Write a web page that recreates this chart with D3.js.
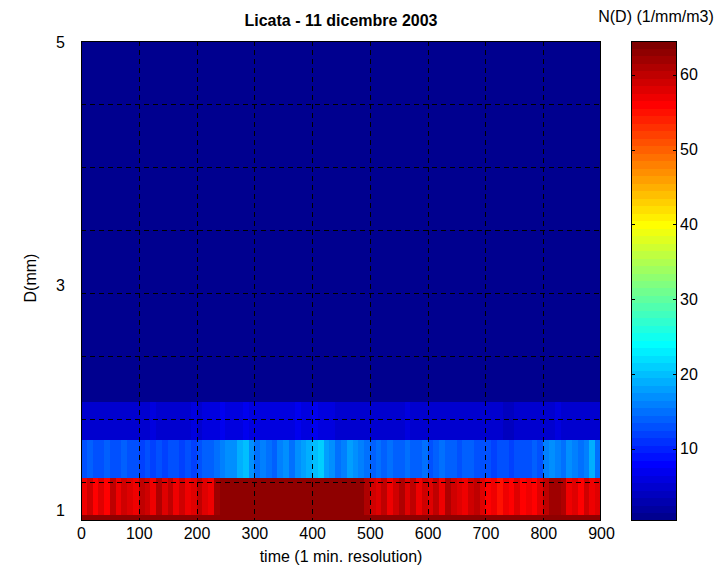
<!DOCTYPE html>
<html>
<head>
<meta charset="utf-8">
<script src="https://cdn.jsdelivr.net/npm/d3@7"></script>
<style>
  body { margin: 0; background: #fff; }
  svg text { font-family: "Liberation Sans", Arial, Helvetica, sans-serif; fill: #000; }
</style>
</head>
<body>
<div id="chart"></div>
<script>
// time axis (minutes) and diameter bins (mm)
var timeRange = [0, 900];
var xTicks = [0, 100, 200, 300, 400, 500, 600, 700, 800, 900];
var yGrid = [1.5, 2, 2.5, 3, 3.5, 4, 4.5];
var yLabelText = ["5", "3", "1"];
var yLabelPos = [4.99, 3.06, 1.28];
var cbarTicks = [10, 20, 30, 40, 50, 60];

// bin centres, 0.3 mm wide
var dCenters = [1.09, 1.39, 1.69, 1.99, 2.29, 2.59, 2.89, 3.19, 3.49, 3.79, 4.09, 4.39, 4.69, 4.99];

// N(D) colour index per 10 minutes (one value = whole row)
var row1 = [63];
var row2 = [57, 59, 56, 58, 56, 60, 57, 59, 58, 57, 60, 59, 57, 61, 58, 60, 57, 59, 57, 58, 60, 58, 57, 62,
            63, 63, 63, 63, 63, 63, 63, 63, 63, 63, 63, 63, 63, 63, 63, 63, 63, 63, 63, 63, 63, 63, 63, 63, 63,
            61, 59, 58, 60, 57, 59, 61, 58, 60, 57, 59, 58, 60, 57, 61, 59, 58, 57, 59, 60, 58,
            56, 57, 55, 57, 56, 58, 56, 57, 56, 58,
            60, 62, 62, 61, 57, 58, 56, 59, 57, 58];
var row3 = [13, 14, 13, 13, 14, 13, 13, 14, 13, 13,
            12, 13, 12, 13, 12, 13, 13, 12, 13, 12,
            13, 14, 14, 15, 16, 17, 17, 19, 20, 17,
            15, 16, 15, 14, 16, 17, 15, 17, 18, 19,
            20, 21, 18, 17, 15, 16, 18, 17, 16, 15,
            14, 15, 14, 15, 14, 14, 15, 14, 14, 15,
            13, 14, 15, 14, 14, 13, 14, 14, 13, 13,
            13, 12, 13, 13, 12, 13, 13, 13, 14, 13,
            16, 17, 16, 15, 17, 16, 15, 16, 19, 15];
var row4 = [5, 5, 5, 5, 5, 5, 5, 5, 5, 5,
            5, 5, 6, 5, 5, 5, 5, 5, 5, 6,
            5, 6, 6, 6, 7, 6, 6, 6, 7, 6,
            6, 6, 6, 6, 6, 6, 6, 7, 6, 6,
            7, 6, 6, 6, 5, 5, 5, 5, 5, 5,
            5, 5, 5, 5, 5, 5, 6, 5, 5, 5,
            5, 5, 5, 5, 5, 5, 5, 5, 5, 5,
            5, 5, 5, 4, 4, 5, 5, 5, 5, 5,
            5, 5, 6, 5, 5, 5, 5, 5, 5, 5];
var rowTop = [1];
var rows = [row1, row2, row3, row4, rowTop, rowTop, rowTop, rowTop, rowTop, rowTop, rowTop, rowTop, rowTop, rowTop];

// matlab jet(64)
function jet(m) {
    var n = Math.ceil(m / 4), u = [], i;
    for (i = 1; i <= n; i++) u.push(i / n);
    for (i = 1; i < n; i++) u.push(1);
    for (i = n; i >= 1; i--) u.push(i / n);
    var g0 = Math.ceil(n / 2) - (m % 4 == 1 ? 1 : 0);
    var J = d3.range(m).map(function () { return [0, 0, 0]; });
    u.forEach(function (v, k) {
        var g = g0 + k + 1, r = g + n, b = g - n;
        if (r <= m) J[r - 1][0] = v;
        if (g <= m) J[g - 1][1] = v;
        if (b >= 1) J[b - 1][2] = v;
    });
    return J.map(function (c) { return d3.rgb(c[0] * 255, c[1] * 255, c[2] * 255).formatHex(); });
}
var jetColors = jet(64);

var W = 724, H = 574;
var plot = { left: 81, right: 601, top: 41, bottom: 520 };
var cbar = { left: 631, right: 677 };

var svg = d3.select("#chart").append("svg").attr("width", W).attr("height", H);
svg.append("rect").attr("width", W).attr("height", H).attr("fill", "#fff");

var x = d3.scaleLinear().domain(timeRange).range([plot.left, plot.right]);
var y = d3.scaleLinear().domain([1.2, 5]).range([plot.bottom, plot.top]);
var color = d3.scaleQuantize().domain([0.5, 64.5]).range(jetColors);

svg.append("clipPath").attr("id", "clip")
    .append("rect").attr("x", plot.left).attr("y", plot.top)
    .attr("width", plot.right - plot.left).attr("height", plot.bottom - plot.top);

var cells = svg.append("g").attr("clip-path", "url(#clip)").attr("shape-rendering", "crispEdges");
rows.forEach(function (vals, r) {
    var step = (timeRange[1] - timeRange[0]) / vals.length;
    cells.selectAll(null).data(vals).enter().append("rect")
        .attr("x", function (d, i) { return x(i * step); })
        .attr("width", function (d, i) { return x((i + 1) * step) - x(i * step) + 0.5; })
        .attr("y", y(dCenters[r] + 0.15))
        .attr("height", y(dCenters[r] - 0.15) - y(dCenters[r] + 0.15) + 0.5)
        .attr("fill", function (d) { return color(d); });
});

// grid
var grid = svg.append("g").attr("stroke", "#000").attr("stroke-dasharray", "5,4")
    .attr("stroke-width", 1).attr("shape-rendering", "crispEdges");
grid.selectAll(null).data(xTicks.slice(1, -1)).enter().append("line")
    .attr("x1", function (d) { return Math.round(x(d)) + 0.5; })
    .attr("x2", function (d) { return Math.round(x(d)) + 0.5; })
    .attr("y1", plot.top).attr("y2", plot.bottom);
grid.selectAll(null).data(yGrid).enter().append("line")
    .attr("y1", function (d) { return Math.round(y(d)) + 0.5; })
    .attr("y2", function (d) { return Math.round(y(d)) + 0.5; })
    .attr("x1", plot.left).attr("x2", plot.right);

// axes box
svg.append("rect").attr("x", plot.left + 0.5).attr("y", plot.top + 0.5)
    .attr("width", plot.right - plot.left - 1).attr("height", plot.bottom - plot.top)
    .attr("fill", "none").attr("stroke", "#000").attr("stroke-width", 1)
    .attr("shape-rendering", "crispEdges");

var xAxis = svg.append("g").attr("transform", "translate(0," + plot.bottom + ")")
    .call(d3.axisBottom(x).tickValues(xTicks).tickSize(0).tickPadding(8));
xAxis.select(".domain").remove();
xAxis.selectAll("text").attr("font-size", 16).style("font-family", "Liberation Sans, Arial, sans-serif");

svg.append("g").selectAll(null).data(yLabelText).enter().append("text")
    .attr("x", plot.left - 16).attr("y", function (d, i) { return y(yLabelPos[i]); })
    .attr("dy", "0.35em").attr("text-anchor", "end").attr("font-size", 16)
    .text(function (d) { return d; });

svg.append("text").attr("x", (plot.left + plot.right) / 2).attr("y", 562)
    .attr("text-anchor", "middle").attr("font-size", 16).text("time (1 min. resolution)");
svg.append("text").attr("transform", "translate(36," + 278 + ") rotate(-90)")
    .attr("text-anchor", "middle").attr("font-size", 16).text("D(mm)");
svg.append("text").attr("x", (plot.left + plot.right) / 2).attr("y", 26)
    .attr("text-anchor", "middle").attr("font-size", 16).attr("font-weight", "bold")
    .text("Licata - 11 dicembre 2003");
svg.append("text").attr("x", 656).attr("y", 22)
    .attr("text-anchor", "middle").attr("font-size", 16).text("N(D) (1/mm/m3)");

// colorbar
var cy = d3.scaleLinear().domain([0.5, 64.5]).range([plot.bottom, plot.top]);
svg.append("g").attr("shape-rendering", "crispEdges").selectAll(null).data(jetColors).enter().append("rect")
    .attr("x", cbar.left).attr("width", cbar.right - cbar.left)
    .attr("y", function (d, i) { return cy(i + 1.5); })
    .attr("height", function (d, i) { return cy(i + 0.5) - cy(i + 1.5) + 0.5; })
    .attr("fill", function (d) { return d; });
svg.append("rect").attr("x", cbar.left + 0.5).attr("y", plot.top + 0.5)
    .attr("width", cbar.right - cbar.left - 1).attr("height", plot.bottom - plot.top)
    .attr("fill", "none").attr("stroke", "#000").attr("shape-rendering", "crispEdges");
var cb = svg.append("g").attr("shape-rendering", "crispEdges");
cb.selectAll(null).data(cbarTicks).enter().append("line")
    .attr("x1", cbar.left).attr("x2", cbar.left + 4)
    .attr("y1", function (d) { return Math.round(cy(d)) + 0.5; })
    .attr("y2", function (d) { return Math.round(cy(d)) + 0.5; })
    .attr("stroke", "#000");
cb.selectAll(null).data(cbarTicks).enter().append("line")
    .attr("x1", cbar.right - 4).attr("x2", cbar.right)
    .attr("y1", function (d) { return Math.round(cy(d)) + 0.5; })
    .attr("y2", function (d) { return Math.round(cy(d)) + 0.5; })
    .attr("stroke", "#000");
cb.selectAll(null).data(cbarTicks).enter().append("text")
    .attr("x", cbar.right + 3).attr("y", function (d) { return cy(d); })
    .attr("dy", "0.35em").attr("font-size", 16).text(function (d) { return d; });
</script>
</body>
</html>
